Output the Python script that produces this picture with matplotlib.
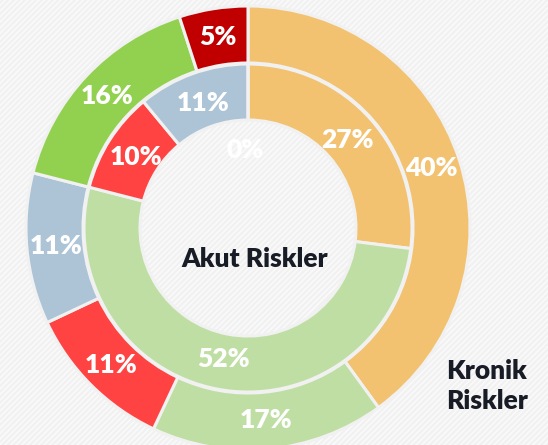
import matplotlib.pyplot as plt
from matplotlib.patches import Rectangle

plt.rcParams['font.family'] = ['Lato', 'DejaVu Sans']
plt.rcParams['hatch.linewidth'] = 1.2

# Kronik riskler (dis halka)
dis_degerler = [40, 17, 11, 11, 16, 5]
dis_renkler = ['#F2C270', '#BFDEA3', '#FF4343', '#ADC4D6', '#92D050', '#C00000']
dis_patlama = [0.014, 0.02, 0, 0, 0, 0]

# Akut riskler (ic halka)
ic_degerler = [27, 52, 10, 11, 0]
ic_renkler = ['#F2C270', '#BFDEA3', '#FF4343', '#ADC4D6', '#FFFFFF']
ic_patlama = [0, 0.025, 0, 0, 0]

W, H = 548, 445
cx, cy = 248, H - 228
R_dis, w_dis = 222, 57
R_ic, w_ic = 164, 56
arka = '#F1F1F1'

fig = plt.figure(figsize=(W / 100, H / 100), dpi=100)
fig.patch.set_facecolor(arka)
ax = fig.add_axes([0, 0, 1, 1])

# cizgili arka plan
ax.add_patch(Rectangle((0, 0), W, H, facecolor=arka, edgecolor='#FAFAFA',
                       hatch='//////', linewidth=0, zorder=0))

def yuzde(p):
    return f'{p:.0f}%'

_, t_dis, a_dis = ax.pie(dis_degerler, colors=dis_renkler, explode=dis_patlama,
                         radius=R_dis, center=(cx, cy), startangle=90, counterclock=False,
                         autopct=yuzde, pctdistance=0.87,
                         wedgeprops=dict(width=w_dis, edgecolor=arka, linewidth=2.2),
                         textprops=dict(color='white', fontsize=19, fontweight='heavy'))

_, t_ic, a_ic = ax.pie(ic_degerler, colors=ic_renkler, explode=ic_patlama,
                       radius=R_ic, center=(cx, cy), startangle=90, counterclock=False,
                       autopct=yuzde, pctdistance=0.81,
                       wedgeprops=dict(width=w_ic, edgecolor=arka, linewidth=2.2),
                       textprops=dict(color='white', fontsize=19, fontweight='heavy'))

# %0 etiketi deligin icinde duruyor
a_ic[-1].set_position((cx - 3, cy + 0.72 * (R_ic - w_ic)))

ax.text(cx + 7, cy - 31, 'Akut Riskler', ha='center', va='center',
        fontsize=19, fontweight='heavy', color='#171C26')
ax.text(446, H - 386, 'Kronik\nRiskler', ha='left', va='center', linespacing=1.3,
        fontsize=19, fontweight='heavy', color='#171C26')

ax.set_xlim(0, W)
ax.set_ylim(0, H)
ax.set_aspect('equal')
ax.axis('off')

fig.savefig('out.png', dpi=100, facecolor=fig.get_facecolor())
